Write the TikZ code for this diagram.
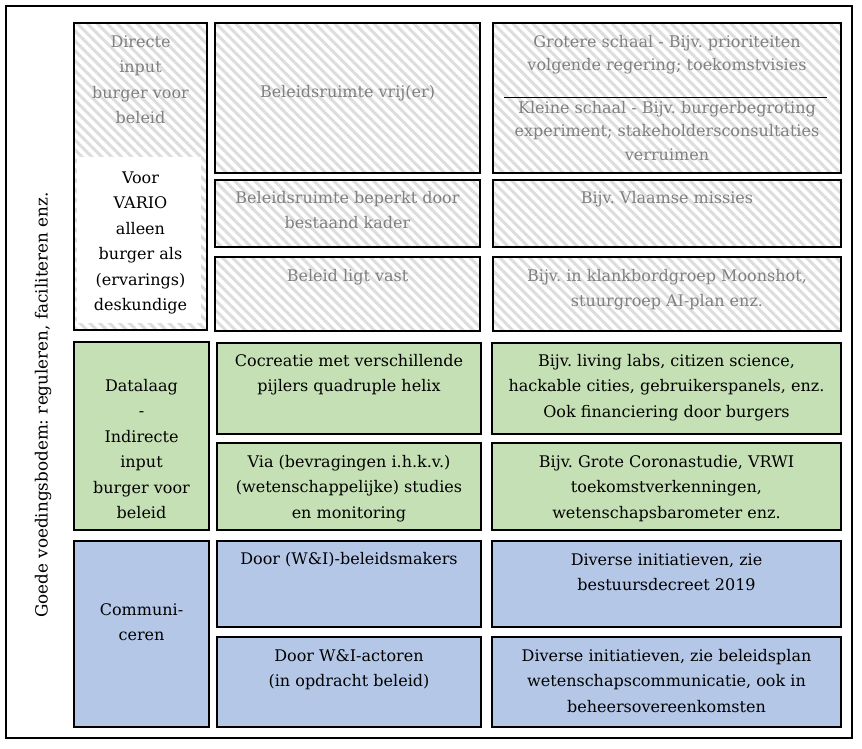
\documentclass[tikz,border=0pt]{standalone}
\usepackage{fontspec}
\setmainfont{DejaVu Serif}
\usetikzlibrary{patterns.meta}
\frenchspacing
\definecolor{grn}{HTML}{C5E0B4}
\definecolor{blu}{HTML}{B4C7E7}
\definecolor{gtxt}{HTML}{808080}
\definecolor{hatchc}{HTML}{DDDDDD}
\tikzset{
  hbox/.style={draw=black, line width=1.2pt, pattern={Lines[angle=-45,distance=7pt,line width=3pt]}, pattern color=hatchc},
  gbox/.style={draw=black, line width=1.2pt, fill=grn},
  bbox/.style={draw=black, line width=1.2pt, fill=blu},
  txt/.style={anchor=north, inner sep=0pt, align=center, font=\fontsize{16}{25.5}\selectfont},
  txtb/.style={anchor=north, inner sep=0pt, align=center, font=\fontsize{16}{23.5}\selectfont},
  gtx/.style={txt, text=gtxt},
  gtxb/.style={txtb, text=gtxt},
}
\begin{document}
\begin{tikzpicture}[x=1pt,y=-1pt]
\useasboundingbox (0,0) rectangle (862,748);
\fill[white] (0,0) rectangle (862,748);
% outer frame
\draw[line width=2.5pt] (6,6) rectangle (852,738);
% side label
\node[rotate=90, inner sep=0pt, font=\fontsize{16.8}{18}\selectfont] (side) at (43,405) {Goede voedingsbodem: reguleren, faciliteren enz.};
% ---------- hatched section ----------
\path[hbox] (74,23) rectangle (207,330);
\fill[white] (77,157) rectangle (201,323);
\draw[line width=1.2pt] (74,23) rectangle (207,330);
\path[hbox] (215,23) rectangle (480,173);
\path[hbox] (493,23) rectangle (841,173);
\draw[line width=1pt] (504,97) -- (827,97);
\path[hbox] (215,180) rectangle (480,247);
\path[hbox] (493,180) rectangle (841,247);
\path[hbox] (215,257) rectangle (480,331);
\path[hbox] (493,257) rectangle (841,331);

\node[gtx] (dir) at (140.5,29.3) {\strut Directe\\input\\burger voor\\beleid};
\node[txt] (vario) at (140.5,165.3) {\strut Voor\\VARIO\\alleen\\burger als\\(ervarings)\\deskundige};
\node[gtx] (vrij) at (347.5,79.3) {\strut Beleidsruimte vrij(er)};
\node[gtxb] (groot) at (667,30.7) {\strut Grotere schaal - Bijv. prioriteiten\\volgende regering; toekomstvisies};
\node[gtxb] (klein) at (667,96.7) {\strut Kleine schaal - Bijv. burgerbegroting\\experiment; stakeholdersconsultaties\\verruimen};
\node[gtx] (beperkt) at (347.5,185.3) {\strut Beleidsruimte beperkt door\\bestaand kader};
\node[gtx] (missies) at (667,185.3) {\strut Bijv. Vlaamse missies};
\node[gtx] (vast) at (347.5,263.3) {\strut Beleid ligt vast};
\node[gtx] (moon) at (667,263.3) {\strut Bijv. in klankbordgroep Moonshot,\\stuurgroep AI-plan enz.};
% ---------- green section ----------
\path[gbox] (74,342) rectangle (209,530);
\path[gbox] (217,343) rectangle (481,434);
\path[gbox] (492,343) rectangle (841,434);
\path[gbox] (217,443) rectangle (481,530);
\path[gbox] (492,443) rectangle (841,530);
\node[txt] (data) at (141.5,373.3) {\strut Datalaag\\-\\Indirecte\\input\\burger voor\\beleid};
\node[txt] (cocr) at (349,348.3) {\strut Cocreatie met verschillende\\pijlers quadruple helix};
\node[txt] (living) at (666.5,348.3) {\strut Bijv. living labs, citizen science,\\hackable cities, gebruikerspanels, enz.\\Ook financiering door burgers};
\node[txt] (via) at (349,449.3) {\strut Via (bevragingen i.h.k.v.)\\(wetenschappelijke) studies\\en monitoring};
\node[txt] (corona) at (666.5,449.3) {\strut Bijv. Grote Coronastudie, VRWI\\toekomstverkenningen,\\wetenschapsbarometer enz.};
% ---------- blue section ----------
\path[bbox] (74,541) rectangle (209,727);
\path[bbox] (217,541) rectangle (481,627);
\path[bbox] (492,541) rectangle (841,627);
\path[bbox] (217,637) rectangle (481,727);
\path[bbox] (492,637) rectangle (841,727);
\node[txt] (comm) at (141.5,597.3) {\strut Communi-\\ceren};
\node[txt] (door1) at (349,546.3) {\strut Door (W\&I)-beleidsmakers};
\node[txt] (div1) at (666.5,547.3) {\strut Diverse initiatieven, zie\\bestuursdecreet 2019};
\node[txt] (door2) at (349,643.3) {\strut Door W\&I-actoren\\(in opdracht beleid)};
\node[txt] (div2) at (666.5,643.3) {\strut Diverse initiatieven, zie beleidsplan\\wetenschapscommunicatie, ook in\\beheersovereenkomsten};
\end{tikzpicture}
\end{document}
